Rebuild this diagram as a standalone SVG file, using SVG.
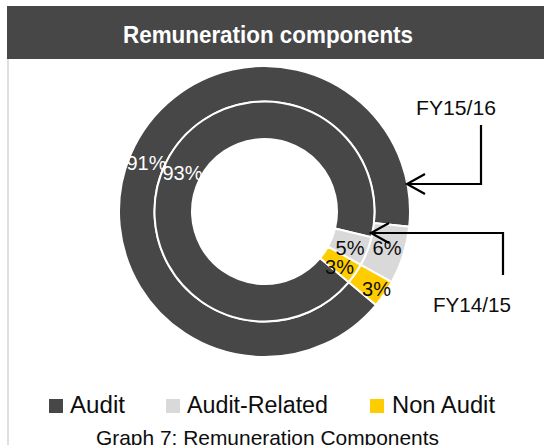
<svg xmlns="http://www.w3.org/2000/svg" width="544" height="445" viewBox="0 0 544 445">
  <style>
    .audit { fill: #474747; }
    .related { fill: #d9d9d9; }
    .nonaudit { fill: #ffcc00; }
    .slice { stroke: #ffffff; stroke-width: 2; stroke-linejoin: miter; }
    .pct { font-family: "Liberation Sans", Arial, sans-serif; font-size: 20px; text-anchor: middle; }
    .pct-light { fill: #ffffff; }
    .pct-dark { fill: #0d0d0d; }
    .fy { font-family: "Liberation Sans", Arial, sans-serif; font-size: 21px; fill: #0d0d0d; }
    .legend-text { font-family: "Liberation Sans", Arial, sans-serif; font-size: 23px; fill: #0d0d0d; }
    .caption { font-family: "Liberation Sans", Arial, sans-serif; font-size: 21px; fill: #0d0d0d; }
    .callout { fill: none; stroke: #000000; stroke-width: 2.2; stroke-linejoin: miter; }
  </style>
  <defs>
    <marker id="open-arrow" markerUnits="userSpaceOnUse" markerWidth="40" markerHeight="40" refX="0" refY="0" orient="auto" overflow="visible">
      <path d="M-18,-10 L0,0 L-18,10" fill="none" stroke="#000000" stroke-width="2.2"/>
    </marker>
  </defs>

  <rect x="0" y="0" width="544" height="445" fill="#ffffff"/>

  <!-- frame edge -->
  <line x1="8" y1="59" x2="8" y2="445" stroke="#d9d9d9" stroke-width="1.6"/>

  <!-- title bar -->
  <g id="header">
    <rect x="7" y="6" width="537" height="53" fill="#474747"/>
    <text x="268" y="43" text-anchor="middle" font-family="'Liberation Sans', Arial, sans-serif" font-size="24" font-weight="bold" fill="#ffffff" textLength="290" lengthAdjust="spacingAndGlyphs">Remuneration components</text>
  </g>

  <!-- outer ring: FY15/16 -->
  <g id="ring-fy1516">
    <path class="slice audit" d="M375.96,305.03 A145.5,145.5 0 1 1 409.2,226.71 L373.9,223.0 A110,110 0 1 0 348.76,282.21 Z"/>
    <path class="slice related" d="M409.2,226.71 A145.5,145.5 0 0 1 391.76,282.04 L360.71,264.83 A110,110 0 0 0 373.9,223.0 Z"/>
    <path class="slice nonaudit" d="M391.76,282.04 A145.5,145.5 0 0 1 375.96,305.03 L348.76,282.21 A110,110 0 0 0 360.71,264.83 Z"/>
  </g>

  <!-- inner ring: FY14/15 -->
  <g id="ring-fy1415">
    <path class="slice audit" d="M348.76,282.21 A110,110 0 1 1 371.46,237.18 L335.0,228.43 A72.5,72.5 0 1 0 320.04,258.10 Z"/>
    <path class="slice related" d="M371.46,237.18 A110,110 0 0 1 360.71,264.83 L327.91,246.65 A72.5,72.5 0 0 0 335.0,228.43 Z"/>
    <path class="slice nonaudit" d="M360.71,264.83 A110,110 0 0 1 348.76,282.21 L320.04,258.10 A72.5,72.5 0 0 0 327.91,246.65 Z"/>
  </g>

  <!-- slice values -->
  <g id="slice-labels">
    <text class="pct pct-light" x="146.5" y="170">91%</text>
    <text class="pct pct-light" x="182.5" y="180">93%</text>
    <text class="pct pct-dark" x="350" y="255">5%</text>
    <text class="pct pct-dark" x="387" y="255">6%</text>
    <text class="pct pct-dark" x="339.5" y="274">3%</text>
    <text class="pct pct-dark" x="376.5" y="296">3%</text>
  </g>

  <!-- year callouts -->
  <g id="label-fy1516">
    <text class="fy" x="416" y="115" textLength="80" lengthAdjust="spacingAndGlyphs">FY15/16</text>
  </g>
  <g id="label-fy1415">
    <text class="fy" x="433" y="312" textLength="78" lengthAdjust="spacingAndGlyphs">FY14/15</text>
  </g>

  <g id="connectors">
    <polyline class="callout" points="481,125 481,184 407,184" marker-end="url(#open-arrow)"/>
    <polyline class="callout" points="503,275 503,233 371,233" marker-end="url(#open-arrow)"/>
  </g>

  <!-- legend -->
  <g id="legend">
    <rect class="audit" x="49" y="399" width="14" height="14"/>
    <text class="legend-text" x="70" y="413" textLength="55" lengthAdjust="spacingAndGlyphs">Audit</text>
    <rect class="related" x="166" y="399" width="14" height="14"/>
    <text class="legend-text" x="187" y="413" textLength="141" lengthAdjust="spacingAndGlyphs">Audit-Related</text>
    <rect class="nonaudit" x="370" y="399" width="14" height="14"/>
    <text class="legend-text" x="392" y="413" textLength="103" lengthAdjust="spacingAndGlyphs">Non Audit</text>
  </g>

  <g id="caption">
    <text class="caption" x="96" y="445" textLength="343" lengthAdjust="spacingAndGlyphs">Graph 7: Remuneration Components</text>
  </g>
</svg>
